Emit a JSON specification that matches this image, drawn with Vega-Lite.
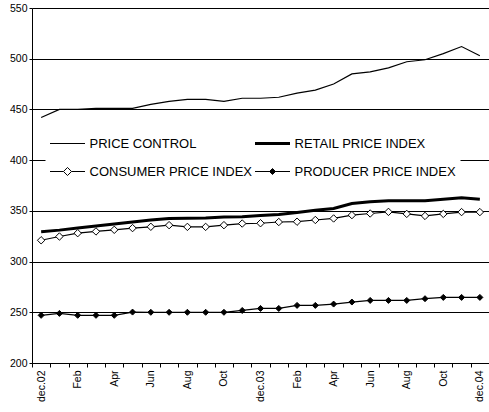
{
  "$schema": "https://vega.github.io/schema/vega-lite/v6.json",
  "width": 457,
  "height": 355,
  "autosize": {"type": "none"},
  "padding": {"left": 32, "top": 8, "right": 0, "bottom": 49},
  "config": {
    "font": "Liberation Sans",
    "view": {"stroke": null},
    "axis": {"labelColor": "black", "domainColor": "black", "tickColor": "black", "labelFontSize": 10.5, "title": null}
  },
  "data": {
    "values": [
      {"month": "2002-12-15", "series": "PRICE CONTROL", "value": 442},
      {"month": "2003-01-15", "series": "PRICE CONTROL", "value": 450},
      {"month": "2003-02-15", "series": "PRICE CONTROL", "value": 450},
      {"month": "2003-03-15", "series": "PRICE CONTROL", "value": 451},
      {"month": "2003-04-15", "series": "PRICE CONTROL", "value": 451},
      {"month": "2003-05-15", "series": "PRICE CONTROL", "value": 451},
      {"month": "2003-06-15", "series": "PRICE CONTROL", "value": 455},
      {"month": "2003-07-15", "series": "PRICE CONTROL", "value": 458},
      {"month": "2003-08-15", "series": "PRICE CONTROL", "value": 460},
      {"month": "2003-09-15", "series": "PRICE CONTROL", "value": 460},
      {"month": "2003-10-15", "series": "PRICE CONTROL", "value": 458},
      {"month": "2003-11-15", "series": "PRICE CONTROL", "value": 461},
      {"month": "2003-12-15", "series": "PRICE CONTROL", "value": 461},
      {"month": "2004-01-15", "series": "PRICE CONTROL", "value": 462},
      {"month": "2004-02-15", "series": "PRICE CONTROL", "value": 466},
      {"month": "2004-03-15", "series": "PRICE CONTROL", "value": 469},
      {"month": "2004-04-15", "series": "PRICE CONTROL", "value": 475},
      {"month": "2004-05-15", "series": "PRICE CONTROL", "value": 485},
      {"month": "2004-06-15", "series": "PRICE CONTROL", "value": 487},
      {"month": "2004-07-15", "series": "PRICE CONTROL", "value": 491},
      {"month": "2004-08-15", "series": "PRICE CONTROL", "value": 497},
      {"month": "2004-09-15", "series": "PRICE CONTROL", "value": 499},
      {"month": "2004-10-15", "series": "PRICE CONTROL", "value": 505},
      {"month": "2004-11-15", "series": "PRICE CONTROL", "value": 512},
      {"month": "2004-12-15", "series": "PRICE CONTROL", "value": 503},
      {"month": "2002-12-15", "series": "RETAIL PRICE INDEX", "value": 329.5},
      {"month": "2003-01-15", "series": "RETAIL PRICE INDEX", "value": 331},
      {"month": "2003-02-15", "series": "RETAIL PRICE INDEX", "value": 333},
      {"month": "2003-03-15", "series": "RETAIL PRICE INDEX", "value": 335},
      {"month": "2003-04-15", "series": "RETAIL PRICE INDEX", "value": 337},
      {"month": "2003-05-15", "series": "RETAIL PRICE INDEX", "value": 339},
      {"month": "2003-06-15", "series": "RETAIL PRICE INDEX", "value": 341},
      {"month": "2003-07-15", "series": "RETAIL PRICE INDEX", "value": 342.5},
      {"month": "2003-08-15", "series": "RETAIL PRICE INDEX", "value": 342.8},
      {"month": "2003-09-15", "series": "RETAIL PRICE INDEX", "value": 343},
      {"month": "2003-10-15", "series": "RETAIL PRICE INDEX", "value": 344},
      {"month": "2003-11-15", "series": "RETAIL PRICE INDEX", "value": 344.3},
      {"month": "2003-12-15", "series": "RETAIL PRICE INDEX", "value": 345.5},
      {"month": "2004-01-15", "series": "RETAIL PRICE INDEX", "value": 346.4},
      {"month": "2004-02-15", "series": "RETAIL PRICE INDEX", "value": 348.4},
      {"month": "2004-03-15", "series": "RETAIL PRICE INDEX", "value": 350.7},
      {"month": "2004-04-15", "series": "RETAIL PRICE INDEX", "value": 352.3},
      {"month": "2004-05-15", "series": "RETAIL PRICE INDEX", "value": 357.3},
      {"month": "2004-06-15", "series": "RETAIL PRICE INDEX", "value": 359},
      {"month": "2004-07-15", "series": "RETAIL PRICE INDEX", "value": 360},
      {"month": "2004-08-15", "series": "RETAIL PRICE INDEX", "value": 360},
      {"month": "2004-09-15", "series": "RETAIL PRICE INDEX", "value": 360},
      {"month": "2004-10-15", "series": "RETAIL PRICE INDEX", "value": 361.5},
      {"month": "2004-11-15", "series": "RETAIL PRICE INDEX", "value": 363},
      {"month": "2004-12-15", "series": "RETAIL PRICE INDEX", "value": 361.5},
      {"month": "2002-12-15", "series": "CONSUMER PRICE INDEX", "value": 321},
      {"month": "2003-01-15", "series": "CONSUMER PRICE INDEX", "value": 324.7},
      {"month": "2003-02-15", "series": "CONSUMER PRICE INDEX", "value": 328},
      {"month": "2003-03-15", "series": "CONSUMER PRICE INDEX", "value": 329.7},
      {"month": "2003-04-15", "series": "CONSUMER PRICE INDEX", "value": 331.3},
      {"month": "2003-05-15", "series": "CONSUMER PRICE INDEX", "value": 333},
      {"month": "2003-06-15", "series": "CONSUMER PRICE INDEX", "value": 334.3},
      {"month": "2003-07-15", "series": "CONSUMER PRICE INDEX", "value": 335.9},
      {"month": "2003-08-15", "series": "CONSUMER PRICE INDEX", "value": 334.2},
      {"month": "2003-09-15", "series": "CONSUMER PRICE INDEX", "value": 334.2},
      {"month": "2003-10-15", "series": "CONSUMER PRICE INDEX", "value": 335.9},
      {"month": "2003-11-15", "series": "CONSUMER PRICE INDEX", "value": 337.5},
      {"month": "2003-12-15", "series": "CONSUMER PRICE INDEX", "value": 337.8},
      {"month": "2004-01-15", "series": "CONSUMER PRICE INDEX", "value": 339},
      {"month": "2004-02-15", "series": "CONSUMER PRICE INDEX", "value": 339.3},
      {"month": "2004-03-15", "series": "CONSUMER PRICE INDEX", "value": 341},
      {"month": "2004-04-15", "series": "CONSUMER PRICE INDEX", "value": 342.5},
      {"month": "2004-05-15", "series": "CONSUMER PRICE INDEX", "value": 345.8},
      {"month": "2004-06-15", "series": "CONSUMER PRICE INDEX", "value": 347.4},
      {"month": "2004-07-15", "series": "CONSUMER PRICE INDEX", "value": 349},
      {"month": "2004-08-15", "series": "CONSUMER PRICE INDEX", "value": 347},
      {"month": "2004-09-15", "series": "CONSUMER PRICE INDEX", "value": 345},
      {"month": "2004-10-15", "series": "CONSUMER PRICE INDEX", "value": 347},
      {"month": "2004-11-15", "series": "CONSUMER PRICE INDEX", "value": 348.8},
      {"month": "2004-12-15", "series": "CONSUMER PRICE INDEX", "value": 348.8},
      {"month": "2002-12-15", "series": "PRODUCER PRICE INDEX", "value": 247},
      {"month": "2003-01-15", "series": "PRODUCER PRICE INDEX", "value": 248.9},
      {"month": "2003-02-15", "series": "PRODUCER PRICE INDEX", "value": 247},
      {"month": "2003-03-15", "series": "PRODUCER PRICE INDEX", "value": 247},
      {"month": "2003-04-15", "series": "PRODUCER PRICE INDEX", "value": 247},
      {"month": "2003-05-15", "series": "PRODUCER PRICE INDEX", "value": 250.2},
      {"month": "2003-06-15", "series": "PRODUCER PRICE INDEX", "value": 250},
      {"month": "2003-07-15", "series": "PRODUCER PRICE INDEX", "value": 250},
      {"month": "2003-08-15", "series": "PRODUCER PRICE INDEX", "value": 250},
      {"month": "2003-09-15", "series": "PRODUCER PRICE INDEX", "value": 250},
      {"month": "2003-10-15", "series": "PRODUCER PRICE INDEX", "value": 250},
      {"month": "2003-11-15", "series": "PRODUCER PRICE INDEX", "value": 251.8},
      {"month": "2003-12-15", "series": "PRODUCER PRICE INDEX", "value": 253.8},
      {"month": "2004-01-15", "series": "PRODUCER PRICE INDEX", "value": 253.8},
      {"month": "2004-02-15", "series": "PRODUCER PRICE INDEX", "value": 256.8},
      {"month": "2004-03-15", "series": "PRODUCER PRICE INDEX", "value": 256.8},
      {"month": "2004-04-15", "series": "PRODUCER PRICE INDEX", "value": 258.1},
      {"month": "2004-05-15", "series": "PRODUCER PRICE INDEX", "value": 260.1},
      {"month": "2004-06-15", "series": "PRODUCER PRICE INDEX", "value": 261.7},
      {"month": "2004-07-15", "series": "PRODUCER PRICE INDEX", "value": 261.7},
      {"month": "2004-08-15", "series": "PRODUCER PRICE INDEX", "value": 261.7},
      {"month": "2004-09-15", "series": "PRODUCER PRICE INDEX", "value": 263.4},
      {"month": "2004-10-15", "series": "PRODUCER PRICE INDEX", "value": 264.7},
      {"month": "2004-11-15", "series": "PRODUCER PRICE INDEX", "value": 264.7},
      {"month": "2004-12-15", "series": "PRODUCER PRICE INDEX", "value": 264.7}
    ]
  },
  "encoding": {
    "x": {
      "field": "month",
      "timeUnit": "yearmonth",
      "type": "ordinal",
      "scale": {"type": "band", "paddingInner": 0, "paddingOuter": 0},
      "axis": {
        "labelAngle": -90,
        "labelExpr": "month(datum.value) == 11 ? 'dec.' + timeFormat(datum.value, '%y') : (month(datum.value) % 2 == 1 ? timeFormat(datum.value, '%b') : '')",
        "labelOverlap": false,
        "tickBand": "extent",
        "tickSize": 4,
        "labelPadding": 3,
        "grid": false
      }
    },
    "y": {
      "field": "value",
      "type": "quantitative",
      "scale": {"domain": [200, 550], "nice": false, "zero": false},
      "axis": {
        "values": [200, 250, 300, 350, 400, 450, 500, 550],
        "grid": true,
        "gridColor": "black",
        "gridOpacity": 1,
        "gridDash": {"condition": {"test": "datum.value === 400", "value": [13.5, 413, 40]}, "value": []},
        "tickSize": 3,
        "labelPadding": 2
      }
    }
  },
  "layer": [
    {
      "mark": {"type": "line"},
      "encoding": {
        "color": {
          "field": "series",
          "type": "nominal",
          "scale": {
            "domain": ["PRICE CONTROL", "RETAIL PRICE INDEX", "CONSUMER PRICE INDEX", "PRODUCER PRICE INDEX"],
            "range": ["black", "black", "black", "black"]
          },
          "legend": {
            "title": null,
            "orient": "none",
            "direction": "horizontal",
            "legendX": 13.5,
            "legendY": 124.5,
            "columns": 2,
            "fillColor": "white",
            "padding": 4,
            "symbolSize": 1225,
            "symbolStrokeWidth": 1,
            "clipHeight": 14,
            "rowPadding": 14,
            "columnPadding": 2,
            "labelOffset": 4,
            "labelFontSize": 13,
            "labelColor": "black",
            "labelLimit": 300,
            "encode": {
              "symbols": {
                "update": {
                  "shape": {"signal": "(datum.value === 'CONSUMER PRICE INDEX' ? 'M-1,0H-0.23M0.23,0H1M0,-0.23L0.23,0L0,0.23L-0.23,0Z' : datum.value === 'PRODUCER PRICE INDEX' ? 'M-1,0H1M0,-0.17L0.17,0L0,0.17L-0.17,0Z' : 'M-1,0H1')"},
                  "fill": {"signal": "(datum.value === 'CONSUMER PRICE INDEX' ? 'white' : datum.value === 'PRODUCER PRICE INDEX' ? 'black' : 'transparent')"},
                  "stroke": {"value": "black"},
                  "strokeWidth": {"signal": "(datum.value === 'RETAIL PRICE INDEX' ? 3 : 1)"},
                  "opacity": {"value": 1}
                }
              }
            }
          }
        },
        "strokeWidth": {
          "condition": {"test": "datum.series === 'RETAIL PRICE INDEX'", "value": 3},
          "value": 1.2
        }
      }
    },
    {
      "transform": [{"filter": "datum.series === 'CONSUMER PRICE INDEX' || datum.series === 'PRODUCER PRICE INDEX'"}],
      "mark": {"type": "point", "shape": "diamond", "filled": true, "stroke": "black", "strokeWidth": 1, "opacity": 1},
      "encoding": {
        "fill": {
          "condition": {"test": "datum.series === 'CONSUMER PRICE INDEX'", "value": "white"},
          "value": "black"
        },
        "size": {
          "condition": {"test": "datum.series === 'CONSUMER PRICE INDEX'", "value": 55},
          "value": 36
        }
      }
    }
  ]
}
